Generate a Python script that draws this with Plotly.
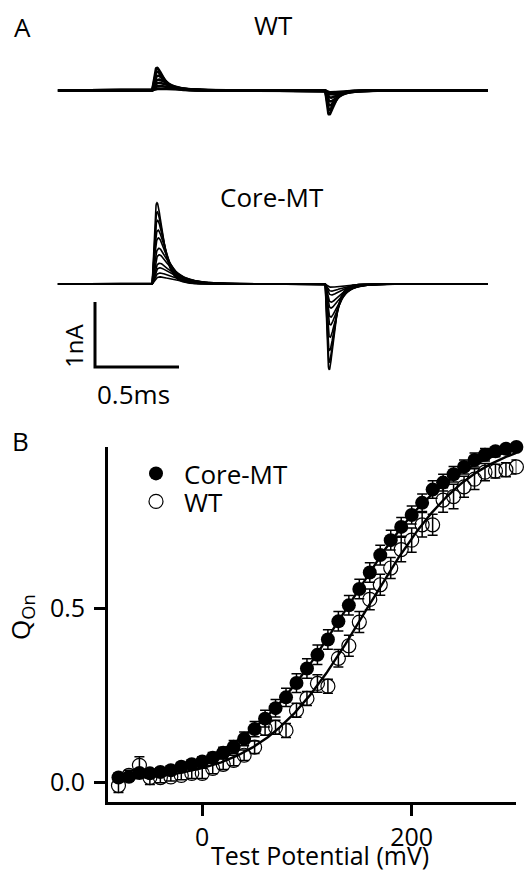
import numpy as np
import plotly.graph_objects as go

W, H = 524, 871
FONT = "Open Sans"
FS = 26

# ---------------- Panel B data ----------------
voltage_mv = list(range(-80, 301, 10))
core_mt_q = [0.014, 0.016, 0.027, 0.026, 0.030, 0.035, 0.045, 0.052, 0.060, 0.071,
             0.085, 0.102, 0.125, 0.153, 0.183, 0.213, 0.244, 0.285, 0.327, 0.366,
             0.410, 0.462, 0.508, 0.555, 0.602, 0.652, 0.695, 0.733, 0.767, 0.802,
             0.840, 0.860, 0.884, 0.905, 0.925, 0.940, 0.950, 0.957, 0.962]
core_mt_err = [0.012, 0.012, 0.012, 0.012, 0.012, 0.012, 0.012, 0.012, 0.014, 0.015,
               0.016, 0.018, 0.020, 0.022, 0.024, 0.025, 0.026, 0.027, 0.028, 0.028,
               0.028, 0.028, 0.028, 0.028, 0.028, 0.028, 0.028, 0.027, 0.026, 0.025,
               0.025, 0.024, 0.022, 0.020, 0.020, 0.018, 0.016, 0.014, 0.012]
wt_q = [-0.009, 0.020, 0.049, 0.014, 0.014, 0.016, 0.020, 0.026, 0.026, 0.040,
        0.052, 0.063, 0.078, 0.101, 0.155, 0.158, 0.149, 0.207, 0.241, 0.284,
        0.276, 0.356, 0.392, 0.460, 0.525, 0.567, 0.615, 0.668, 0.695, 0.739,
        0.739, 0.810, 0.820, 0.848, 0.870, 0.890, 0.893, 0.897, 0.905]
wt_err = [0.020, 0.015, 0.025, 0.020, 0.015, 0.012, 0.012, 0.015, 0.015, 0.015,
          0.015, 0.015, 0.015, 0.018, 0.020, 0.020, 0.020, 0.020, 0.020, 0.025,
          0.020, 0.025, 0.030, 0.030, 0.030, 0.030, 0.030, 0.035, 0.035, 0.035,
          0.030, 0.035, 0.035, 0.030, 0.030, 0.025, 0.020, 0.020, 0.020]

# Boltzmann fits (V1/2 in mV, slope k in mV)
core_fit_vhalf, core_fit_k = 137.8, 52.3
wt_fit_vhalf, wt_fit_k = 157.7, 50.0
fit_v_start, fit_v_end = -80, 300

x_ticks = [0, 200]
y_ticks = [0.0, 0.5]

# ---------------- Panel A data (gating current traces) ----------------
core_on_peak_na = [1.25, 1.11, 0.98, 0.83, 0.71, 0.55, 0.45, 0.32, 0.25, 0.17, 0.11]
core_off_peak_na = [1.32, 1.20, 1.02, 0.82, 0.63, 0.51, 0.37, 0.28, 0.17, 0.11, 0.05]
wt_on_peak_na = [0.35, 0.29, 0.23, 0.17, 0.12, 0.07, 0.03]
wt_off_peak_na = [0.37, 0.30, 0.23, 0.17, 0.11, 0.06, 0.03]
pulse_on_ms, pulse_off_ms = 0.0, 1.03
trace_start_ms, trace_end_ms = -0.56, 2.0
scale_time_ms, scale_current_na = 0.5, 1.0

# ---------------- layout geometry (pixels) ----------------
PX_PER_MS = 168.0
PX_PER_NA = 65.0
T0_PX = 152.0
CORE_BASE_PX = 284.0
WT_BASE_PX = 90.5
WT_OFFSET_NA = (CORE_BASE_PX - WT_BASE_PX) / PX_PER_NA
SB_X_PX, SB_BOTTOM_PX = 95.0, 367.0

def px_x(p):
    return p / W

def px_y(p):
    return 1 - p / H

t = np.linspace(trace_start_ms, trace_end_ms, 1281)

def transient(t0, amp, amp_max, tau_rise, tau_fast, tau_extra):
    s = np.clip(t - t0, 0, None)
    tau_d = tau_fast + tau_extra * (1 - amp / amp_max) ** 1.5
    shape = (1 - np.exp(-s / tau_rise)) ** 2 * np.exp(-s / tau_d)
    ss = np.linspace(0, 1, 20001)
    pk = ((1 - np.exp(-ss / tau_rise)) ** 2 * np.exp(-ss / tau_d)).max()
    return amp * shape / pk

fig = go.Figure()

# Panel A traces
def add_family(on_list, off_list, offset, width):
    amax_on, amax_off = max(on_list), max(off_list)
    for a_on, a_off in zip(on_list, off_list):
        y = (transient(pulse_on_ms, a_on, amax_on, 0.018, 0.038, 0.10)
             - transient(pulse_off_ms, a_off, amax_off, 0.016, 0.030, 0.06)
             + offset)
        fig.add_trace(go.Scatter(x=t, y=y, mode="lines", xaxis="x2", yaxis="y2",
                                 line=dict(color="black", width=width),
                                 showlegend=False, hoverinfo="skip"))

add_family(wt_on_peak_na, wt_off_peak_na, WT_OFFSET_NA, 2.6)
add_family(core_on_peak_na, core_off_peak_na, 0.0, 1.6)

# Scale bar
sb_t = (SB_X_PX - T0_PX) / PX_PER_MS
sb_bottom = (CORE_BASE_PX - SB_BOTTOM_PX) / PX_PER_NA
fig.add_trace(go.Scatter(x=[sb_t, sb_t, sb_t + scale_time_ms],
                         y=[sb_bottom + scale_current_na, sb_bottom, sb_bottom],
                         mode="lines", xaxis="x2", yaxis="y2",
                         line=dict(color="black", width=3),
                         showlegend=False, hoverinfo="skip"))

# Panel B fits
vv = np.linspace(fit_v_start, fit_v_end, 400)
for vh, k in [(core_fit_vhalf, core_fit_k), (wt_fit_vhalf, wt_fit_k)]:
    fig.add_trace(go.Scatter(x=vv, y=1 / (1 + np.exp(-(vv - vh) / k)), mode="lines",
                             line=dict(color="black", width=2.4),
                             showlegend=False, hoverinfo="skip", cliponaxis=False))

fig.add_trace(go.Scatter(x=voltage_mv, y=core_mt_q, mode="markers", name="Core-MT",
                         marker=dict(symbol="circle", size=14, color="black"),
                         error_y=dict(type="data", array=core_mt_err, color="black",
                                      thickness=1.5, width=5),
                         cliponaxis=False, legend="legend"))
fig.add_trace(go.Scatter(x=voltage_mv, y=wt_q, mode="markers", name="WT",
                         marker=dict(symbol="circle-open", size=14, color="black",
                                     line=dict(width=1.2, color="black")),
                         error_y=dict(type="data", array=wt_err, color="black",
                                      thickness=1.5, width=5),
                         cliponaxis=False, legend="legend2"))

ann = []
def text(s, xp, yp, angle=0, size=FS):
    ann.append(dict(text=s, x=px_x(xp), y=px_y(yp), xref="paper", yref="paper",
                    showarrow=False, textangle=angle, xanchor="center", yanchor="middle",
                    font=dict(family=FONT, size=size, color="black")))

text("A", 22, 27)
text("WT", 273, 25)
text("Core-MT", 272, 197)
text("1nA", 73, 346, angle=-90, size=24)
text("0.5ms", 133, 394)
text("B", 20, 441)
text("Test Potential (mV)", 320, 855, size=25)
text("Q<sub>On</sub>", 21, 617, angle=-90)

leg_common = dict(xanchor="left", yanchor="top", bgcolor="rgba(0,0,0,0)",
                  font=dict(family=FONT, size=FS, color="black"), itemwidth=46)

fig.update_layout(
    width=W, height=H, margin=dict(l=0, r=0, t=0, b=0),
    paper_bgcolor="white", plot_bgcolor="rgba(0,0,0,0)",
    font=dict(family=FONT, size=FS, color="black"),
    annotations=ann,
    showlegend=True,
    legend=dict(x=px_x(128), y=px_y(450), **leg_common),
    legend2=dict(x=px_x(128), y=px_y(478), **leg_common),
    xaxis=dict(domain=[px_x(108), px_x(516.4)], range=[-90, 300],
               showline=True, linecolor="black", linewidth=2.8,
               ticks="outside", ticklen=11, tickwidth=2.8, tickcolor="black",
               tickvals=x_ticks, showgrid=False, zeroline=False,
               tickfont=dict(family=FONT, size=25, color="black"), anchor="y"),
    yaxis=dict(domain=[px_y(802.3), px_y(446.7)], range=[-0.057, 0.963],
               showline=True, linecolor="black", linewidth=2.8,
               ticks="outside", ticklen=11, tickwidth=2.8, tickcolor="black",
               tickvals=y_ticks, tickformat=".1f", showgrid=False, zeroline=False,
               ticklabelstandoff=4,
               tickfont=dict(family=FONT, size=25, color="black"), anchor="x"),
    xaxis2=dict(domain=[0, 1], range=[-T0_PX / PX_PER_MS, (W - T0_PX) / PX_PER_MS],
                visible=False, anchor="y2"),
    yaxis2=dict(domain=[0, 1], range=[-(H - CORE_BASE_PX) / PX_PER_NA, CORE_BASE_PX / PX_PER_NA],
                visible=False, anchor="x2"),
)

fig.write_html("out.html", config={"displayModeBar": False},
               post_script="document.body.style.margin='0';")
